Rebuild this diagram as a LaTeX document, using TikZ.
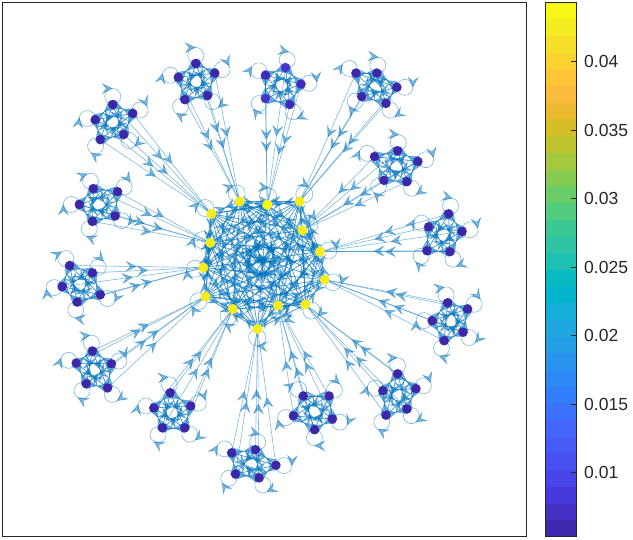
\documentclass[tikz,border=0pt]{standalone}
\usepackage{fontspec}
\setmainfont{Liberation Sans}
\usetikzlibrary{arrows.meta,decorations.markings,calc}
\pgfdeclarelayer{bg}
\pgfsetlayers{bg,main}
\definecolor{matblue}{RGB}{0,114,189}
\definecolor{axcol}{RGB}{38,38,38}
\definecolor{ndpurple}{RGB}{62,38,168}
\definecolor{ndpurpleA}{RGB}{70,52,204}
\definecolor{ndpurpleB}{RGB}{65,42,186}
\definecolor{hubyellow}{RGB}{246,236,28}
\definecolor{hubbright}{RGB}{250,250,15}
\tikzset{
  mtip/.tip={Stealth[length=11pt,width=11pt,inset=4.5pt]},
  gedge/.style={draw=matblue, line width=0.6pt, opacity=0.5,
    postaction={decorate},
    decoration={markings, mark=at position 0.5 with {\arrow{mtip}}}},
  pnode/.style={circle, fill=ndpurple, inner sep=0pt, minimum size=9.5pt},
  hnode/.style={circle, fill=hubyellow, inner sep=0pt, minimum size=10pt},
  lbl/.style={anchor=west, inner sep=0pt, text=axcol, font=\fontsize{17.5}{20}\selectfont},
}
\begin{document}
\begin{tikzpicture}[x=1pt,y=-1pt]
\useasboundingbox (0,0) rectangle (633,540);
% hubs
\node[hnode] (h1) at (211.4,213.8) {};
\node[hnode] (h2) at (239.7,201.4) {};
\node[hnode, fill=hubbright] (h3) at (267.2,204.8) {};
\node[hnode] (h4) at (299.7,201.4) {};
\node[hnode] (h5) at (302.4,230.3) {};
\node[hnode] (h6) at (320,251.7) {};
\node[hnode] (h7) at (324.8,279.7) {};
\node[hnode] (h8) at (305.5,304.5) {};
\node[hnode] (h9) at (277.9,305.5) {};
\node[hnode] (h10) at (257.6,329) {};
\node[hnode] (h11) at (232.8,309) {};
\node[hnode] (h12) at (205.5,296.6) {};
\node[hnode] (h13) at (203.4,267.6) {};
\node[hnode] (h14) at (210.3,242.8) {};
\coordinate (hc) at (261.4,260);
% clusters
\node[pnode] (c1-1) at (112.8,104.5) {};
\node[pnode] (c1-2) at (132.8,113.4) {};
\node[pnode] (c1-3) at (95.2,119.7) {};
\node[pnode] (c1-4) at (123.8,134.5) {};
\node[pnode] (c1-5) at (100.3,139.7) {};
\node[pnode] (c2-1) at (195.9,63.4) {};
\node[pnode] (c2-2) at (214.8,73.1) {};
\node[pnode] (c2-3) at (178.3,77.2) {};
\node[pnode] (c2-4) at (207.6,95.5) {};
\node[pnode] (c2-5) at (184.8,99.7) {};
\node[pnode, fill=ndpurpleA] (c3-1) at (285.5,67.6) {};
\node[pnode, fill=ndpurpleB] (c3-2) at (265.5,75.2) {};
\node[pnode, fill=ndpurpleB] (c3-3) at (301,84.1) {};
\node[pnode, fill=ndpurpleA] (c3-4) at (265.5,98.6) {};
\node[pnode, fill=ndpurpleB] (c3-5) at (289.7,104.5) {};
\node[pnode] (c4-1) at (355.9,73.1) {};
\node[pnode] (c4-2) at (376.9,73.1) {};
\node[pnode] (c4-3) at (396.9,87.2) {};
\node[pnode] (c4-4) at (361.7,96.6) {};
\node[pnode] (c4-5) at (385.9,103.4) {};
\node[pnode] (c5-1) at (397.6,150.7) {};
\node[pnode] (c5-2) at (374.5,156.6) {};
\node[pnode] (c5-3) at (417.9,161.4) {};
\node[pnode] (c5-4) at (383.8,180.3) {};
\node[pnode] (c5-5) at (406.9,181.7) {};
\node[pnode] (c6-1) at (448.6,213.8) {};
\node[pnode] (c6-2) at (428.6,226.9) {};
\node[pnode] (c6-3) at (462.1,231.4) {};
\node[pnode] (c6-4) at (426.9,250.7) {};
\node[pnode] (c6-5) at (450,251.7) {};
\node[pnode] (c7-1) at (447.6,302.8) {};
\node[pnode] (c7-2) at (467.6,309) {};
\node[pnode] (c7-3) at (432.1,320.7) {};
\node[pnode] (c7-4) at (463.1,332.1) {};
\node[pnode] (c7-5) at (444.1,340.7) {};
\node[pnode] (c8-1) at (397.6,373.8) {};
\node[pnode] (c8-2) at (382.8,390.7) {};
\node[pnode] (c8-3) at (415.9,388.6) {};
\node[pnode] (c8-4) at (406.9,409) {};
\node[pnode] (c8-5) at (385.9,415.2) {};
\node[pnode] (c9-1) at (303.4,395.9) {};
\node[pnode] (c9-2) at (329,395.9) {};
\node[pnode] (c9-3) at (293.4,415.9) {};
\node[pnode] (c9-4) at (332.4,419) {};
\node[pnode] (c9-5) at (314.5,429.7) {};
\node[pnode] (c10-1) at (255.5,449.7) {};
\node[pnode] (c10-2) at (231.7,452.8) {};
\node[pnode] (c10-3) at (275.9,465.2) {};
\node[pnode] (c10-4) at (235.5,474.1) {};
\node[pnode] (c10-5) at (259,477.9) {};
\node[pnode] (c11-1) at (170.3,392.8) {};
\node[pnode] (c11-2) at (153.8,407.9) {};
\node[pnode] (c11-3) at (190.7,405.9) {};
\node[pnode] (c11-4) at (162.4,427.9) {};
\node[pnode] (c11-5) at (184.8,427.9) {};
\node[pnode] (c12-1) at (92.4,351) {};
\node[pnode] (c12-2) at (76.2,363.1) {};
\node[pnode] (c12-3) at (111.4,363.8) {};
\node[pnode] (c12-4) at (86.2,383.8) {};
\node[pnode] (c12-5) at (107.6,387.9) {};
\node[pnode] (c13-1) at (69.7,265.5) {};
\node[pnode] (c13-2) at (92.4,272.8) {};
\node[pnode] (c13-3) at (62.1,286.6) {};
\node[pnode] (c13-4) at (100.3,294.8) {};
\node[pnode] (c13-5) at (77.2,302.1) {};
\node[pnode] (c14-1) at (93.4,188.6) {};
\node[pnode] (c14-2) at (117.6,191.7) {};
\node[pnode] (c14-3) at (79.3,204.5) {};
\node[pnode] (c14-4) at (115.2,215.9) {};
\node[pnode] (c14-5) at (92.4,221.4) {};
\foreach \k in {1,...,14}{
  \coordinate (cc\k) at (barycentric cs:c\k-1=1,c\k-2=1,c\k-3=1,c\k-4=1,c\k-5=1);
}
\begin{pgfonlayer}{bg}
% hub complete digraph
\foreach \i in {1,...,14}{
  \foreach \j in {1,...,14}{
    \ifnum\i=\j\relax\else
      \draw[gedge] (h\i.center) -- (h\j.center);
    \fi
  }
}
% hub self-loops
\foreach \i in {1,...,14}{
  \draw[gedge] let \p1=($(h\i)-(hc)$), \n1={atan2(\y1,\x1)+180} in
    (h\i.center) arc[start angle=\n1, delta angle=-360, radius=8.5pt];
}
\foreach \k in {1,...,14}{
  % cluster to hub
  \foreach \i in {1,...,5}{
    \draw[gedge] (c\k-\i.center) -- (h\k.center);
  }
  % cluster complete digraph
  \foreach \i in {1,...,5}{
    \foreach \j in {1,...,5}{
      \ifnum\i=\j\relax\else
        \draw[gedge] (c\k-\i.center) -- (c\k-\j.center);
      \fi
    }
  }
  % self-loops
  \foreach \i in {1,...,5}{
    \draw[gedge] let \p1=($(c\k-\i)-(cc\k)$), \n1={atan2(\y1,\x1)+180} in
      (c\k-\i.center) arc[start angle=\n1, delta angle=-360, radius=8pt];
  }
}
\end{pgfonlayer}
% axes frame
\draw[axcol, line width=1pt] (2.5,2.5) rectangle (526,537);
% colorbar
\foreach \i/\r/\g/\b in {
0/0.2463/0.1577/0.6840, 1/0.2613/0.1898/0.7732, 2/0.2729/0.2245/0.8537,
3/0.2793/0.2671/0.9106, 4/0.2812/0.3117/0.9497, 5/0.2778/0.3557/0.9773,
6/0.2651/0.4008/0.9929, 7/0.2323/0.4481/0.9981, 8/0.1899/0.4961/0.9845,
9/0.1775/0.5394/0.9601, 10/0.1614/0.5803/0.9289, 11/0.1420/0.6184/0.9026,
12/0.1181/0.6547/0.8823, 13/0.0821/0.6873/0.8496, 14/0.0167/0.7143/0.8040,
15/0.0250/0.7362/0.7527, 16/0.1186/0.7542/0.6981, 17/0.1828/0.7714/0.6403,
18/0.2316/0.7881/0.5745, 19/0.3156/0.7991/0.4989, 20/0.4183/0.8027/0.4132,
21/0.5330/0.7968/0.3263, 22/0.6447/0.7835/0.2420, 23/0.7490/0.7648/0.1778,
24/0.8419/0.7452/0.1566, 25/0.9214/0.7309/0.1937, 26/0.9842/0.7366/0.2383,
27/0.9961/0.7776/0.2114, 28/0.9839/0.8261/0.1826, 29/0.9643/0.8765/0.1590,
30/0.9613/0.9254/0.1344, 31/0.9730/0.9723/0.0935}{
  \definecolor{bandcol}{rgb}{\r,\g,\b}
  \fill[bandcol] (545,{537-(\i+1)*16.703-0.2}) rectangle (576,{537-\i*16.703});
}
\draw[axcol, line width=1pt] (545,2.5) rectangle (576,537);
\foreach \n/\v/\y in {1/0.01/472.5, 2/0.015/404, 3/0.02/335.5, 4/0.025/267, 5/0.03/198.5, 6/0.035/130, 7/0.04/61.5}{
  \draw[axcol, line width=0.8pt] (571,\y) -- (576,\y);
  \node[lbl] (t\n) at (584,\y) {\v};
}
\end{tikzpicture}
\end{document}
